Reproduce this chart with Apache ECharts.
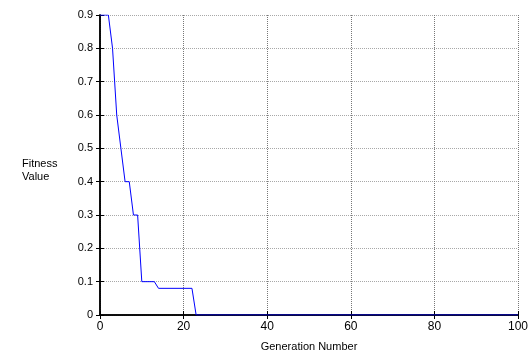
<!DOCTYPE html>
<html>
<head>
<meta charset="utf-8">
<script src="https://cdn.jsdelivr.net/npm/echarts@6/dist/echarts.min.js"></script>
<style>
  html, body { margin: 0; padding: 0; background: #fff; }
  #chart { width: 531px; height: 353px; }
</style>
</head>
<body>
<div id="chart"></div>
<script>
// breakpoints of the best-fitness curve (generation, fitness)
const generations = [0, 2, 3, 4, 5, 6, 7, 8, 9, 10, 13, 14, 22, 23, 100];
const fitness = [0.9, 0.9, 0.8, 0.6, 0.5, 0.4, 0.4, 0.3, 0.3, 0.1, 0.1, 0.08, 0.08, 0, 0];
const xLabel = 'Generation Number';
const yLabel = 'Fitness\nValue';

const font = 'Liberation Sans, Arial, sans-serif';
const chart = echarts.init(document.getElementById('chart'));

const frameAxis = {
  axisLine: { show: true, lineStyle: { color: '#000', width: 1.5 } },
  axisTick: { show: true, inside: true, length: 4, lineStyle: { color: '#000' } },
  axisLabel: { show: false },
  splitLine: { show: false }
};

chart.setOption({
  animation: false,
  grid: { left: 100, right: 13, top: 15, bottom: 38, outerBoundsMode: 'none' },
  graphic: [{
    type: 'text',
    left: 22,
    top: 157,
    style: { text: yLabel, font: '11px ' + font, fill: '#000', lineHeight: 13 }
  }],
  xAxis: [{
    type: 'value',
    min: 0, max: 100, interval: 20,
    name: xLabel,
    nameLocation: 'middle',
    nameGap: 26,
    nameTextStyle: { color: '#000', fontFamily: font, fontSize: 11 },
    axisLine: { show: true, onZero: false, lineStyle: { color: '#000', width: 1.5 } },
    axisTick: { show: true, inside: true, length: 4, lineStyle: { color: '#000' } },
    axisLabel: { color: '#000', fontFamily: font, fontSize: 12, margin: 6 },
    splitLine: { show: true, lineStyle: { color: '#777', type: [1, 1], width: 1 } }
  }, Object.assign({ type: 'value', position: 'top', min: 0, max: 100, interval: 20 }, frameAxis)],
  yAxis: [{
    type: 'value',
    min: 0, max: 0.9, interval: 0.1,
    axisLine: { show: true, onZero: false, lineStyle: { color: '#000', width: 1.5 } },
    axisTick: { show: true, inside: true, length: 4, lineStyle: { color: '#000' } },
    axisLabel: { color: '#000', fontFamily: font, fontSize: 11, margin: 7,
      formatter: v => String(Math.round(v * 10) / 10) },
    splitLine: { show: true, lineStyle: { color: '#a8a8a8', type: [1, 1], width: 1 } }
  }, Object.assign({ type: 'value', position: 'right', min: 0, max: 0.9, interval: 0.1 }, frameAxis)],
  series: [{
    type: 'line',
    data: generations.map((g, i) => [g, fitness[i]]),
    symbol: 'none',
    lineStyle: { color: '#0000ff', width: 1 },
    z: 5
  }]
});
</script>
</body>
</html>
